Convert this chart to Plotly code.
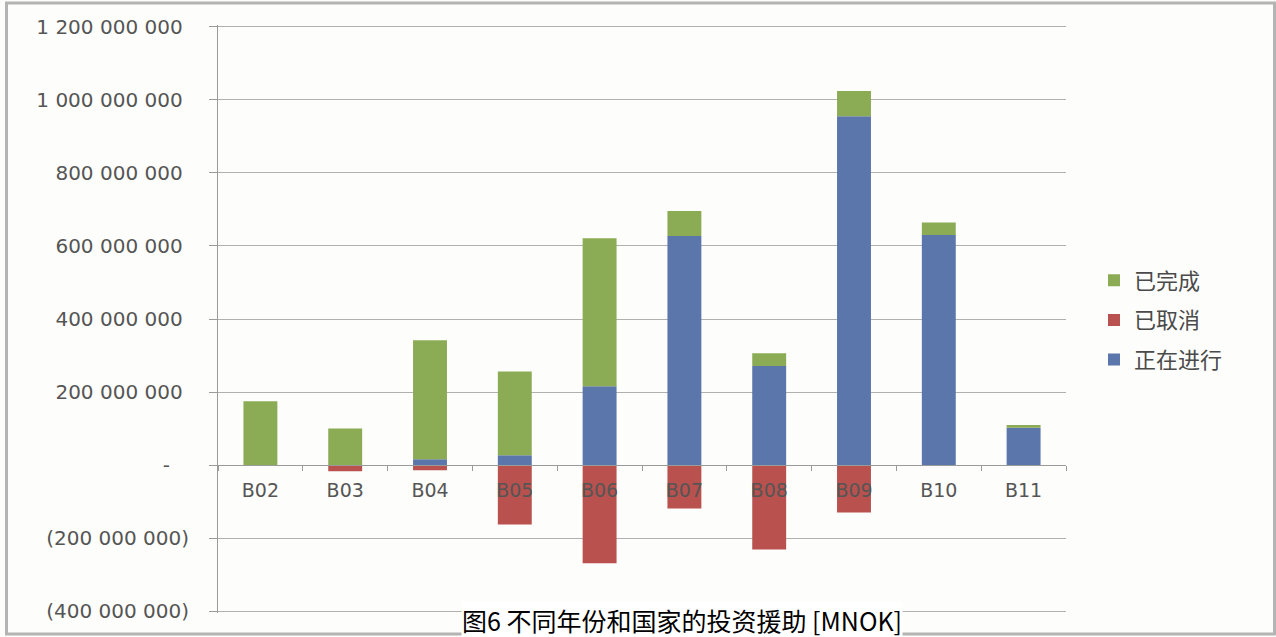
import plotly.graph_objects as go

# Categories and stacked series (NOK)
categories = ["B02", "B03", "B04", "B05", "B06", "B07", "B08", "B09", "B10", "B11"]
ongoing = [0, 0, 16e6, 27e6, 216e6, 627e6, 271e6, 955e6, 630e6, 102e6]          # 正在进行
cancelled = [0, -17e6, -14e6, -163e6, -269e6, -119e6, -231e6, -130e6, -2e6, 0]   # 已取消
completed = [175e6, 100e6, 326e6, 229e6, 405e6, 69e6, 35e6, 69e6, 34e6, 8e6]     # 已完成

y_tick_values = [1.2e9, 1.0e9, 8e8, 6e8, 4e8, 2e8, 0, -2e8, -4e8]
y_tick_labels = ["1 200 000 000", "1 000 000 000", "800 000 000", "600 000 000",
                 "400 000 000", "200 000 000", "-", "(200 000 000)", "(400 000 000)"]

title_text = "图6 不同年份和国家的投资援助 [MNOK]"

Y_MIN, Y_MAX = -4.05e8, 1.205e9   # a little headroom so the end gridlines are drawn


def accounting_pad(label):
    # accounting-style alignment: positives leave room for ")", dash sits further in
    if label == "-":
        return label + "\u00a0" * 3
    if label.endswith(")"):
        return label
    return label + "\u00a0"


GREEN = "#8cab55"
RED = "#b9524f"
BLUE = "#5b76aa"
TICK_FONT = dict(family="DejaVu Sans", size=20, color="#555555")
GRID = "#b0b0b0"

fig = go.Figure()
fig.add_trace(go.Bar(x=categories, y=ongoing, name="正在进行", marker_color=BLUE,
                     marker_line_width=0, legendrank=3, legendgroup="c"))
fig.add_trace(go.Bar(x=categories, y=cancelled, name="已取消", marker_color=RED,
                     marker_line_width=0, legendrank=2, legendgroup="b"))
fig.add_trace(go.Bar(x=categories, y=completed, name="已完成", marker_color=GREEN,
                     marker_line_width=0, legendrank=1, legendgroup="a"))

W, H = 1276, 637
ML, MR, MT, MB = 218, 210, 25, 24
pw, ph = W - ML - MR, H - MT - MB


def px_x(x):
    return (x - ML) / pw


def px_y(y):
    return (H - MB - y) / ph


fig.update_layout(
    width=W, height=H,
    margin=dict(l=ML, r=MR, t=MT, b=MB, pad=0),
    barmode="relative",
    bargap=0.6,
    paper_bgcolor="#fdfdfb",
    plot_bgcolor="#fdfdfb",
    showlegend=True,
    legend=dict(
        x=px_x(1094), y=px_y(320), xanchor="left", yanchor="middle",
        traceorder="grouped",
        tracegroupgap=8,
        font=dict(family="Noto Sans CJK SC", size=22, color="#4a4a4a"),
        bgcolor="rgba(0,0,0,0)",
        itemwidth=30,
    ),
    xaxis=dict(
        type="category",
        anchor="free",
        position=(0 - Y_MIN) / (Y_MAX - Y_MIN),
        showline=True, linecolor="#9a9a9a", linewidth=1,
        ticks="outside", tickson="boundaries", ticklen=5, tickcolor="#9a9a9a",
        showgrid=False,
        tickfont=dict(family="DejaVu Sans", size=19, color="#555555"),
        ticklabelstandoff=8,
    ),
    yaxis=dict(
        range=[Y_MIN, Y_MAX],
        tickvals=y_tick_values,
        ticktext=[accounting_pad(t) for t in y_tick_labels],
        showline=True, linecolor="#9a9a9a", linewidth=1,
        ticks="outside", ticklen=8, tickcolor="#9a9a9a",
        showgrid=True, gridcolor=GRID, gridwidth=1,
        zeroline=False,
        tickfont=TICK_FONT,
        ticklabelstandoff=16,
    ),
    shapes=[
        dict(type="rect", xref="paper", yref="paper",
             x0=px_x(6.5), x1=px_x(1274.5), y0=px_y(634), y1=px_y(3),
             line=dict(color="#b4b4b4", width=3), fillcolor="rgba(0,0,0,0)",
             layer="below"),
    ],
    annotations=[
        dict(text=title_text, xref="paper", yref="paper",
             x=px_x(682), y=px_y(620), xanchor="center", yanchor="middle",
             showarrow=False, bgcolor="#ffffff", borderpad=0,
             font=dict(family="Noto Sans CJK SC", size=25, color="#000000")),
    ],
)

fig.write_html("out.html")
